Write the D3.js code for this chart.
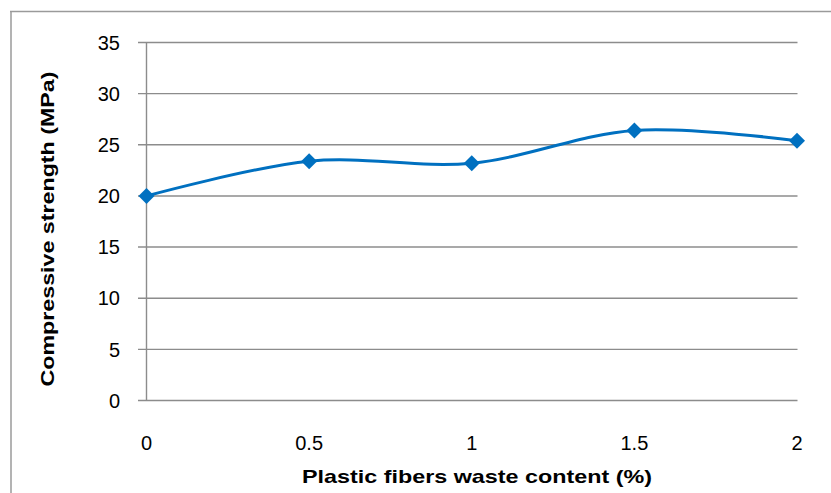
<!DOCTYPE html>
<html><head><meta charset="utf-8">
<script src="https://cdn.jsdelivr.net/npm/d3@7"></script>
<style>body{margin:0;background:#fff}svg{display:block}</style>
</head><body>
<script>
const xValues = [0, 0.5, 1, 1.5, 2];
const xTickLabels = ["0", "0.5", "1", "1.5", "2"];
const strength = [20.0, 23.4, 23.2, 26.4, 25.4];
const yTicks = [0, 5, 10, 15, 20, 25, 30, 35];
const xTitle = "Plastic fibers waste content  (%)";
const yTitle = "Compressive strength (MPa)";

const W = 831, H = 493;
const svg = d3.select("body").append("svg").attr("width", W).attr("height", H);
const font = "Liberation Sans, Arial, sans-serif";

// outer frame
svg.append("line").attr("x1", 10).attr("x2", W).attr("y1", 11.5).attr("y2", 11.5).attr("stroke", "#9a9a9a").attr("stroke-width", 1.5);
svg.append("line").attr("x1", 11).attr("x2", 11).attr("y1", 11).attr("y2", H).attr("stroke", "#9a9a9a").attr("stroke-width", 1.5);

const x = d3.scaleLinear().domain([0, 2]).range([146.5, 797]);
const y = d3.scaleLinear().domain([0, 35]).range([400.5, 42.5]);

// gridlines
svg.append("g").selectAll("line").data(yTicks).join("line")
  .attr("x1", 138).attr("x2", 797.5)
  .attr("y1", d => y(d)).attr("y2", d => y(d))
  .attr("stroke", "#8c8c8c").attr("stroke-width", 1.4);

// y axis line
svg.append("line").attr("x1", x(0)).attr("x2", x(0)).attr("y1", y(35)).attr("y2", y(0))
  .attr("stroke", "#8c8c8c").attr("stroke-width", 1.4);

// y tick labels
svg.append("g").selectAll("text").data(yTicks).join("text")
  .attr("x", 120).attr("y", d => y(d)).attr("dy", "0.36em")
  .attr("text-anchor", "end").attr("font-family", font).attr("font-size", 20)
  .attr("fill", "#000").text(d => d);

// x tick labels
svg.append("g").selectAll("text").data(xValues).join("text")
  .attr("x", d => x(d)).attr("y", 443).attr("dy", "0.36em")
  .attr("text-anchor", "middle").attr("font-family", font).attr("font-size", 20)
  .attr("fill", "#000").text((d, i) => xTickLabels[i]);

// titles
svg.append("text").attr("x", 477).attr("y", 483)
  .attr("text-anchor", "middle").attr("font-family", font).attr("font-size", 19).attr("font-weight", "bold")
  .attr("textLength", 350).attr("lengthAdjust", "spacingAndGlyphs")
  .text(xTitle);
svg.append("text").attr("transform", "translate(54,229) rotate(-90)")
  .attr("text-anchor", "middle").attr("font-family", font).attr("font-size", 19).attr("font-weight", "bold")
  .attr("textLength", 315).attr("lengthAdjust", "spacingAndGlyphs")
  .text(yTitle);

// line
const pts = xValues.map((d, i) => [d, strength[i]]);
const line = d3.line().x(d => x(d[0])).y(d => y(d[1])).curve(d3.curveCardinal.tension(0));
svg.append("path").datum(pts).attr("d", line)
  .attr("fill", "none").attr("stroke", "#0070C0").attr("stroke-width", 3);

// markers
svg.append("g").selectAll("path").data(pts).join("path")
  .attr("transform", d => `translate(${x(d[0])},${y(d[1])})`)
  .attr("d", "M0,-8L8,0L0,8L-8,0Z")
  .attr("fill", "#0070C0");
</script>
</body></html>
